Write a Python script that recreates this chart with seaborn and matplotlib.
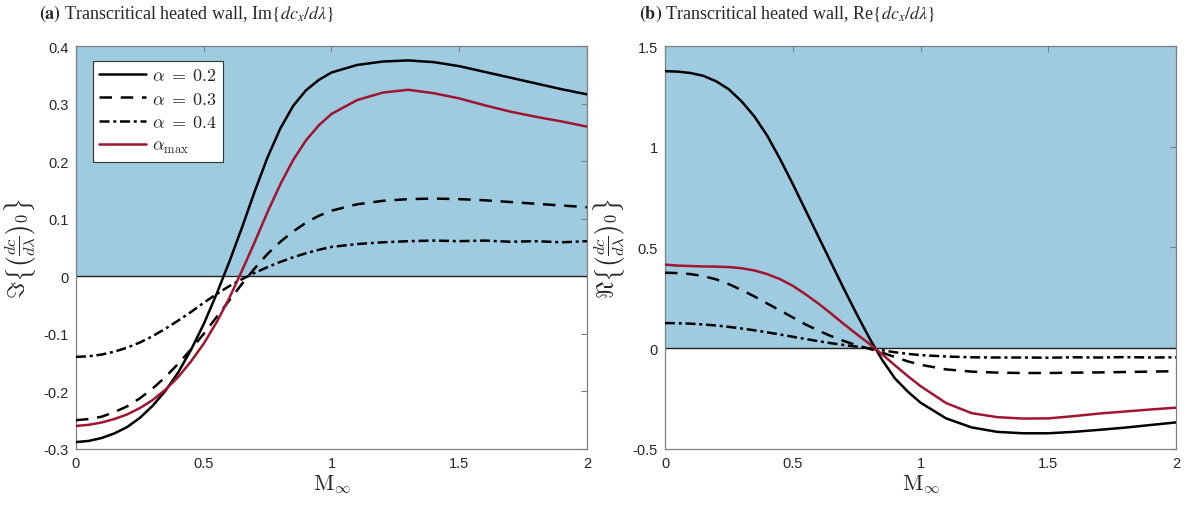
import numpy as np
import pandas as pd
import matplotlib
matplotlib.use("Agg")
import matplotlib.pyplot as plt
import seaborn as sns

# ---------------- data ----------------
mach = [0.0, 0.05, 0.1, 0.15, 0.2, 0.25, 0.3, 0.35, 0.4, 0.45, 0.5, 0.55, 0.6, 0.65,
        0.7, 0.75, 0.8, 0.85, 0.9, 0.95, 1.0, 1.1, 1.2, 1.3, 1.4, 1.5, 1.6, 1.7, 1.8,
        1.9, 2.0]

# (a) imaginary part
im_a02 = [-0.288, -0.286, -0.281, -0.273, -0.262, -0.246, -0.225, -0.199, -0.167, -0.128,
          -0.083, -0.031, 0.025, 0.085, 0.148, 0.207, 0.257, 0.296, 0.323, 0.341,
          0.354, 0.367, 0.373, 0.375, 0.372, 0.365, 0.355, 0.345, 0.335, 0.325, 0.316]
im_a03 = [-0.250, -0.248, -0.244, -0.236, -0.226, -0.212, -0.195, -0.175, -0.152, -0.127,
          -0.100, -0.071, -0.042, -0.013, 0.014, 0.039, 0.060, 0.078, 0.093, 0.105,
          0.114, 0.125, 0.131, 0.134, 0.135, 0.134, 0.132, 0.129, 0.126, 0.123, 0.120]
im_a04 = [-0.140, -0.139, -0.136, -0.131, -0.124, -0.115, -0.104, -0.091, -0.077, -0.062,
          -0.046, -0.031, -0.017, -0.005, 0.006, 0.016, 0.025, 0.033, 0.040, 0.046,
          0.051, 0.056, 0.059, 0.061, 0.062, 0.061, 0.062, 0.060, 0.061, 0.059, 0.061]
im_amax = [-0.260, -0.258, -0.254, -0.248, -0.240, -0.229, -0.215, -0.197, -0.175, -0.148,
           -0.117, -0.080, -0.038, 0.010, 0.060, 0.112, 0.160, 0.202, 0.236, 0.262,
           0.282, 0.306, 0.319, 0.324, 0.318, 0.309, 0.297, 0.286, 0.277, 0.269, 0.260]

# (b) real part
re_a02 = [1.375, 1.373, 1.366, 1.352, 1.325, 1.285, 1.225, 1.150, 1.055, 0.940,
          0.815, 0.685, 0.555, 0.425, 0.295, 0.170, 0.050, -0.058, -0.150, -0.215,
          -0.270, -0.348, -0.393, -0.415, -0.422, -0.422, -0.415, -0.405, -0.394, -0.381, -0.368]
re_a03 = [0.375, 0.373, 0.368, 0.358, 0.342, 0.318, 0.289, 0.257, 0.222, 0.188,
          0.153, 0.118, 0.088, 0.060, 0.036, 0.015, -0.003, -0.022, -0.044, -0.065,
          -0.082, -0.105, -0.116, -0.121, -0.123, -0.123, -0.121, -0.120, -0.118, -0.116, -0.114]
re_a04 = [0.125, 0.124, 0.122, 0.118, 0.113, 0.106, 0.098, 0.089, 0.079, 0.068,
          0.057, 0.046, 0.035, 0.025, 0.016, 0.008, 0.000, -0.010, -0.020, -0.028,
          -0.034, -0.041, -0.045, -0.046, -0.046, -0.047, -0.045, -0.046, -0.044, -0.046, -0.045]
re_amax = [0.415, 0.410, 0.408, 0.406, 0.405, 0.403, 0.397, 0.386, 0.368, 0.343,
           0.310, 0.268, 0.222, 0.172, 0.120, 0.070, 0.022, -0.030, -0.085, -0.138,
           -0.188, -0.272, -0.322, -0.342, -0.349, -0.348, -0.337, -0.324, -0.314, -0.304, -0.295]

series_labels = [r"$\alpha\;=\;0.2$", r"$\alpha\;=\;0.3$", r"$\alpha\;=\;0.4$", r"$\alpha_{\mathrm{max}}$"]
x_ticks = [0, 0.5, 1, 1.5, 2]
x_ticklabels = ["0", "0.5", "1", "1.5", "2"]
ya_ticks = [-0.3, -0.2, -0.1, 0, 0.1, 0.2, 0.3, 0.4]
ya_ticklabels = ["-0.3", "-0.2", "-0.1", "0", "0.1", "0.2", "0.3", "0.4"]
yb_ticks = [-0.5, 0, 0.5, 1, 1.5]
yb_ticklabels = ["-0.5", "0", "0.5", "1", "1.5"]

# ---------------- style ----------------
sns.set_theme(style="white")
plt.rcParams["font.family"] = ["Liberation Sans", "DejaVu Sans"]
plt.rcParams["mathtext.fontset"] = "cm"

BLUE = "#9ECBDF"
RED = "#A2142F"
SPINE = "#7f7f7f"
styles = [("black", "-"), ("black", (0, (5, 3.5))), ("black", (0, (4, 1.5, 1.2, 1.5))), (RED, "-")]

fig = plt.figure(figsize=(11.89, 5.06), dpi=100)
ax_a = fig.add_axes([0.0639, 0.1107, 0.4298, 0.7964])
ax_b = fig.add_axes([0.5593, 0.1107, 0.4298, 0.7964])


def draw(ax, ys, ylim, yticks, yticklabels, ylabel, legend):
    ax.axhspan(0, ylim[1], color=BLUE, zorder=0, lw=0)
    ax.axhline(0, color="#222222", lw=1.0, zorder=1)
    for y, (c, ls), lab in zip(ys, styles, series_labels):
        df = pd.DataFrame({"M": mach, "v": y})
        sns.lineplot(data=df, x="M", y="v", ax=ax, color=c, linestyle=ls, lw=1.8,
                     label=lab if legend else None, legend=False, zorder=3)
    ax.set_xlim(0, 2)
    ax.set_ylim(*ylim)
    ax.set_xticks(x_ticks)
    ax.set_xticklabels(x_ticklabels)
    ax.set_yticks(yticks)
    ax.set_yticklabels(yticklabels)
    ax.tick_params(direction="in", length=4, width=0.8, color=SPINE, labelsize=10.5,
                   labelcolor="#262626", top=True, right=True, pad=5)
    for s in ax.spines.values():
        s.set_color(SPINE)
        s.set_linewidth(0.9)
    ax.set_xlabel(r"$\mathrm{M}_{\infty}$", fontsize=16, labelpad=2, color="#262626")
    ax.set_ylabel(ylabel, fontsize=17, labelpad=4, color="#262626")
    if legend:
        leg = ax.legend(loc="upper left", bbox_to_anchor=(0.033, 0.963), borderaxespad=0,
                        fontsize=13, frameon=True, fancybox=False, framealpha=1,
                        edgecolor="#333333", handlelength=2.6, handletextpad=0.3,
                        labelspacing=0.35, borderpad=0.35)
        leg.get_frame().set_linewidth(0.8)


draw(ax_a, [im_a02, im_a03, im_a04, im_amax], (-0.3, 0.4), ya_ticks, ya_ticklabels,
     r"$\Im\left\{\left(\frac{dc}{d\lambda}\right)_0\right\}$", True)
draw(ax_b, [re_a02, re_a03, re_a04, re_amax], (-0.5, 1.5), yb_ticks, yb_ticklabels,
     r"$\Re\left\{\left(\frac{dc}{d\lambda}\right)_0\right\}$", False)

title_kw = dict(fontsize=13, family=["Liberation Serif", "DejaVu Serif"], va="baseline",
                math_fontfamily="stix")
fig.text(39 / 1189, 1 - 19 / 506, r"$\mathbf{(a)}$ Transcritical heated wall, Im$\{dc_x/d\lambda\}$", **title_kw)
fig.text(639 / 1189, 1 - 19 / 506, r"$\mathbf{(b)}$ Transcritical heated wall, Re$\{dc_x/d\lambda\}$", **title_kw)

fig.savefig("out.png", dpi=100)
